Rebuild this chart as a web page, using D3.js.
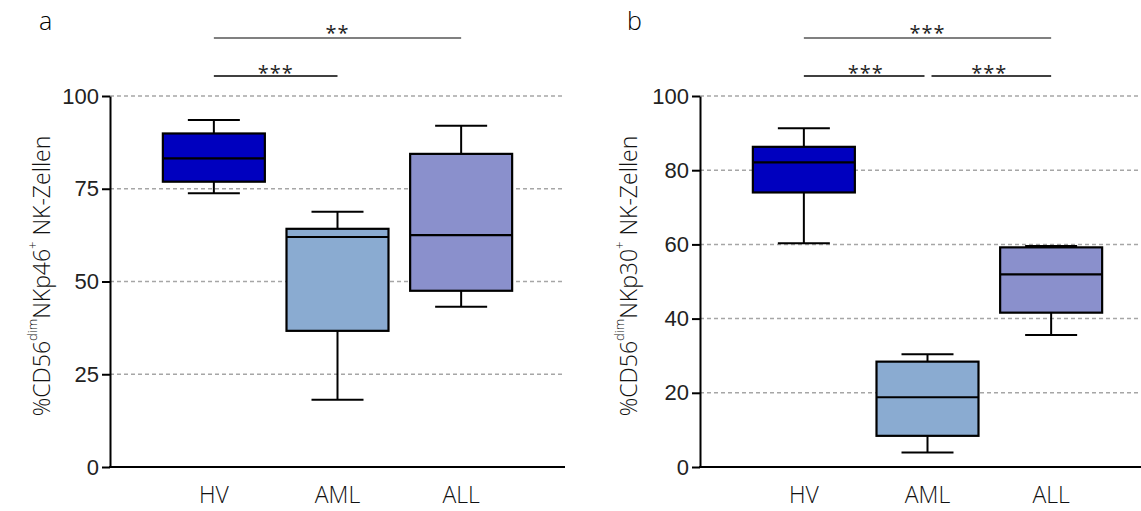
<!DOCTYPE html>
<html>
<head>
<meta charset="utf-8">
<script src="https://cdn.jsdelivr.net/npm/d3@7"></script>
<style>
  body { margin: 0; background: #fff; }
  svg { display: block; font-family: "Open Sans", "Noto Sans", sans-serif; font-weight: 300; }
</style>
</head>
<body>
<svg id="chart" width="1141" height="511"></svg>
<script>
// groups on the x axis
const groups = ["HV", "AML", "ALL"];
const groupColors = ["#0000bf", "#8aabd1", "#8a90cc"];

// panel a: NKp46
const nkp46Low = [73.8, 18.1, 43.2];
const nkp46Q1 = [76.9, 36.7, 47.5];
const nkp46Median = [83.2, 62.0, 62.5];
const nkp46Q3 = [89.9, 64.2, 84.4];
const nkp46High = [93.5, 68.8, 92.0];
const nkp46Ticks = [0, 25, 50, 75, 100];
const nkp46Sig = [
  { from: "HV", to: "AML", label: "***", level: 1 },
  { from: "HV", to: "ALL", label: "**", level: 2 },
];

// panel b: NKp30
const nkp30Low = [60.3, 3.9, 35.6];
const nkp30Q1 = [74.0, 8.4, 41.6];
const nkp30Median = [82.1, 18.8, 51.9];
const nkp30Q3 = [86.3, 28.4, 59.2];
const nkp30High = [91.3, 30.4, 59.6];
const nkp30Ticks = [0, 20, 40, 60, 80, 100];
const nkp30Sig = [
  { from: "HV", to: "AML", label: "***", level: 1 },
  { from: "AML", to: "ALL", label: "***", level: 1 },
  { from: "HV", to: "ALL", label: "***", level: 2 },
];

const svg = d3.select("#chart");

function boxData(low, q1, med, q3, high) {
  return groups.map((g, i) => ({
    group: g, low: low[i], q1: q1[i], median: med[i], q3: q3[i], high: high[i], color: groupColors[i],
  }));
}

function drawPanel(offset, letter, marker, data, ticks, sig) {
  const top = 96, bottom = 467, left = 110, right = 565;
  const g = svg.append("g").attr("transform", `translate(${offset},0)`);

  const x = d3.scalePoint().domain(groups).range([left, right]).padding(0.84);
  const y = d3.scaleLinear().domain([0, 100]).range([bottom, top]);
  const boxW = 102, capW = 52;

  // dashed grid
  g.append("g").selectAll("line")
    .data(ticks.filter(t => t > 0))
    .join("line")
    .attr("x1", left).attr("x2", right)
    .attr("y1", d => y(d)).attr("y2", d => y(d))
    .attr("stroke", "#a6a6a6").attr("stroke-width", 1.5)
    .attr("stroke-dasharray", "4,3");

  // whiskers
  const boxes = g.append("g").selectAll("g").data(data).join("g");
  boxes.append("line")
    .attr("x1", d => x(d.group)).attr("x2", d => x(d.group))
    .attr("y1", d => y(d.low)).attr("y2", d => y(d.high))
    .attr("stroke", "#000").attr("stroke-width", 2);
  boxes.append("line")
    .attr("x1", d => x(d.group) - capW / 2).attr("x2", d => x(d.group) + capW / 2)
    .attr("y1", d => y(d.low)).attr("y2", d => y(d.low))
    .attr("stroke", "#000").attr("stroke-width", 2);
  boxes.append("line")
    .attr("x1", d => x(d.group) - capW / 2).attr("x2", d => x(d.group) + capW / 2)
    .attr("y1", d => y(d.high)).attr("y2", d => y(d.high))
    .attr("stroke", "#000").attr("stroke-width", 2);
  boxes.append("rect")
    .attr("x", d => x(d.group) - boxW / 2)
    .attr("width", boxW)
    .attr("y", d => y(d.q3))
    .attr("height", d => y(d.q1) - y(d.q3))
    .attr("fill", d => d.color)
    .attr("stroke", "#000").attr("stroke-width", 2.2);
  boxes.append("line")
    .attr("x1", d => x(d.group) - boxW / 2).attr("x2", d => x(d.group) + boxW / 2)
    .attr("y1", d => y(d.median)).attr("y2", d => y(d.median))
    .attr("stroke", "#000").attr("stroke-width", 2.2);

  // y axis
  const yAxis = g.append("g")
    .attr("transform", `translate(${left},0)`)
    .call(d3.axisLeft(y).tickValues(ticks).tickSize(8).tickSizeOuter(0).tickPadding(3));
  yAxis.select(".domain").attr("stroke", "#000").attr("stroke-width", 2);
  yAxis.selectAll(".tick line").attr("stroke", "#000").attr("stroke-width", 2);
  yAxis.selectAll(".tick text")
    .attr("fill", "#222").style("font-size", "22px").style("font-family", "inherit");

  // x axis line
  g.append("line")
    .attr("x1", left - 1).attr("x2", right)
    .attr("y1", bottom).attr("y2", bottom)
    .attr("stroke", "#000").attr("stroke-width", 2);

  g.append("g").selectAll("text").data(groups).join("text")
    .attr("x", d => x(d)).attr("y", 503)
    .attr("text-anchor", "middle")
    .attr("fill", "#111").style("font-size", "23px")
    .text(d => d);

  // y title
  const title = g.append("text")
    .attr("transform", `translate(${offset === 0 ? 50 : 47},276) rotate(-90)`)
    .attr("text-anchor", "middle")
    .attr("fill", "#111").style("font-size", "23px");
  title.append("tspan").text("%CD56");
  title.append("tspan").attr("dy", -13).style("font-size", "13px").text("dim");
  title.append("tspan").attr("dy", 13).text("NKp" + marker);
  title.append("tspan").attr("dy", -13).style("font-size", "13px").text("+");
  title.append("tspan").attr("dy", 13).text("\u00a0NK-Zellen");

  // panel letter
  g.append("text").attr("x", offset === 0 ? 39 : 37).attr("y", 30)
    .attr("fill", "#000").style("font-size", "25px").text(letter);

  // significance brackets
  const levelY = { 1: 76, 2: 38 };
  sig.forEach(s => {
    const shared = sig.filter(o => o !== s && o.level === s.level);
    let x1 = x(s.from), x2 = x(s.to);
    if (shared.some(o => o.from === s.to)) x2 -= 3;
    if (shared.some(o => o.to === s.from)) x1 += 4;
    const ly = levelY[s.level];
    g.append("line")
      .attr("x1", x1).attr("x2", x2).attr("y1", ly).attr("y2", ly)
      .attr("stroke", s.level === 2 ? "#808080" : "#000")
      .attr("stroke-width", s.level === 2 ? 2 : 1.5);
    g.append("text")
      .attr("x", (x(s.from) + x(s.to)) / 2).attr("y", ly + (s.level === 2 ? 2 : 4))
      .attr("text-anchor", "middle")
      .attr("fill", "#222").style("font-size", "20px").style("font-weight", 400)
      .style("letter-spacing", "1px")
      .text(s.label);
  });
}

drawPanel(0, "a", "46", boxData(nkp46Low, nkp46Q1, nkp46Median, nkp46Q3, nkp46High), nkp46Ticks, nkp46Sig);
drawPanel(590, "b", "30", boxData(nkp30Low, nkp30Q1, nkp30Median, nkp30Q3, nkp30High), nkp30Ticks, nkp30Sig);
</script>
</body>
</html>
